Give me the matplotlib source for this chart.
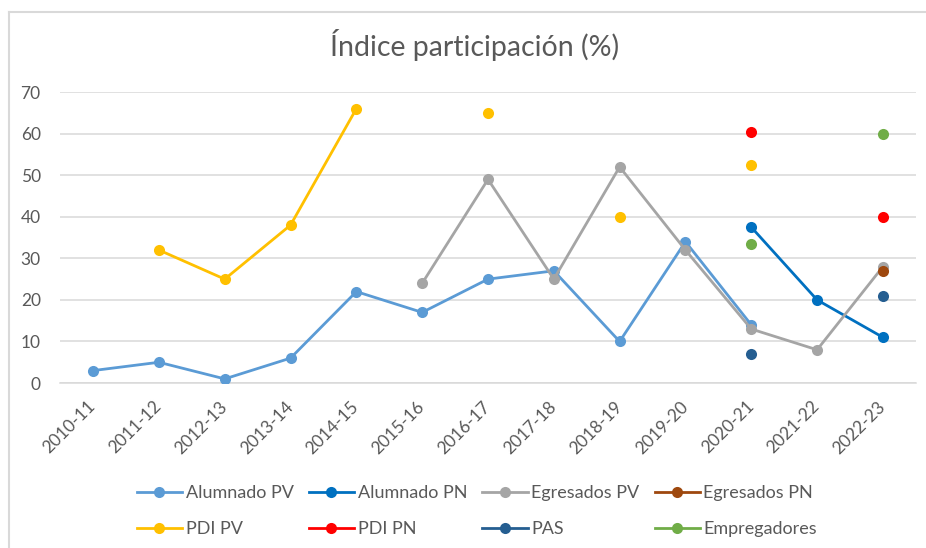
import numpy as np
import matplotlib.pyplot as plt
from matplotlib.lines import Line2D

plt.rcParams['font.family'] = ['Lato', 'DejaVu Sans']

# =========================
# datos
# =========================
cursos = ["2010-11", "2011-12", "2012-13", "2013-14", "2014-15", "2015-16", "2016-17",
          "2017-18", "2018-19", "2019-20", "2020-21", "2021-22", "2022-23"]
nan = np.nan
alumnado_pv = [3, 5, 1, 6, 22, 17, 25, 27, 10, 34, 14, nan, nan]
alumnado_pn = [nan, nan, nan, nan, nan, nan, nan, nan, nan, nan, 37.5, 20, 11]
egresados_pv = [nan, nan, nan, nan, nan, 24, 49, 25, 52, 32, 13, 8, 28]
egresados_pn = [nan, nan, nan, nan, nan, nan, nan, nan, nan, nan, nan, nan, 27]
pdi_pv = [nan, 32, 25, 38, 66, nan, 65, nan, 40, nan, 52.5, nan, nan]
pdi_pn = [nan, nan, nan, nan, nan, nan, nan, nan, nan, nan, 60.5, nan, 40]
pas = [nan, nan, nan, nan, nan, nan, nan, nan, nan, nan, 7, nan, 21]
empregadores = [nan, nan, nan, nan, nan, nan, nan, nan, nan, nan, 33.5, nan, 60]

series = [
    ("Alumnado PV", alumnado_pv, "#5B9BD5"),
    ("Alumnado PN", alumnado_pn, "#0070C0"),
    ("Egresados PV", egresados_pv, "#A5A5A5"),
    ("Egresados PN", egresados_pn, "#9E480E"),
    ("PDI PV", pdi_pv, "#FFC000"),
    ("PDI PN", pdi_pn, "#FF0000"),
    ("PAS", pas, "#255E91"),
    ("Empregadores", empregadores, "#70AD47"),
]

TXT = "#595959"
GRID = "#D9D9D9"

# =========================
# figura
# =========================
fig = plt.figure(figsize=(9.26, 5.48), dpi=100)
ax = fig.add_axes([0.065, 0.301, 0.924, 0.531])

x = np.arange(len(cursos))
handles = []
for i, (name, vals, col) in enumerate(series):
    h, = ax.plot(x, vals, color=col, linewidth=2.0, marker="o", markersize=8,
                 markeredgewidth=0, label=name, zorder=3 + i)
    handles.append(h)

ax.set_xlim(-0.5, len(cursos) - 0.5)
ax.set_ylim(0, 70)
ax.set_yticks(range(0, 71, 10))
ax.set_xticks(x)
ax.set_xticklabels(cursos, rotation=45, ha="right", va="center",
                   rotation_mode="anchor")
ax.tick_params(axis="both", length=0, colors=TXT, labelsize=12.5)
ax.tick_params(axis="y", pad=14)
ax.tick_params(axis="x", pad=15)
ax.grid(axis="y", color=GRID, linewidth=1.1)
ax.set_axisbelow(True)
for s in ["top", "right", "left"]:
    ax.spines[s].set_visible(False)
ax.spines["bottom"].set_color(GRID)
ax.spines["bottom"].set_linewidth(1.1)

fig.text(0.513, 0.917, "Índice participación (%)", ha="center", va="center",
         fontsize=20.5, color=TXT)

# leyenda por filas (4 columnas)
order = [0, 4, 1, 5, 2, 6, 3, 7]
fig.legend([handles[k] for k in order], [series[k][0] for k in order],
           ncol=4, loc="center", bbox_to_anchor=(0.515, 0.0675), frameon=False,
           fontsize=13, labelcolor=TXT, handlelength=2.5, handletextpad=0.2,
           columnspacing=0.85, labelspacing=1.1)

# marco del grafico (solo visible arriba e izquierda)
fx0, fy0 = 8.5 / 926, 1 - 11.5 / 548
fig.lines.append(Line2D([fx0, fx0], [0, fy0], transform=fig.transFigure,
                        color=GRID, linewidth=1.5))
fig.lines.append(Line2D([fx0, 1], [fy0, fy0], transform=fig.transFigure,
                        color=GRID, linewidth=1.5))

fig.savefig("out.png", dpi=100)
